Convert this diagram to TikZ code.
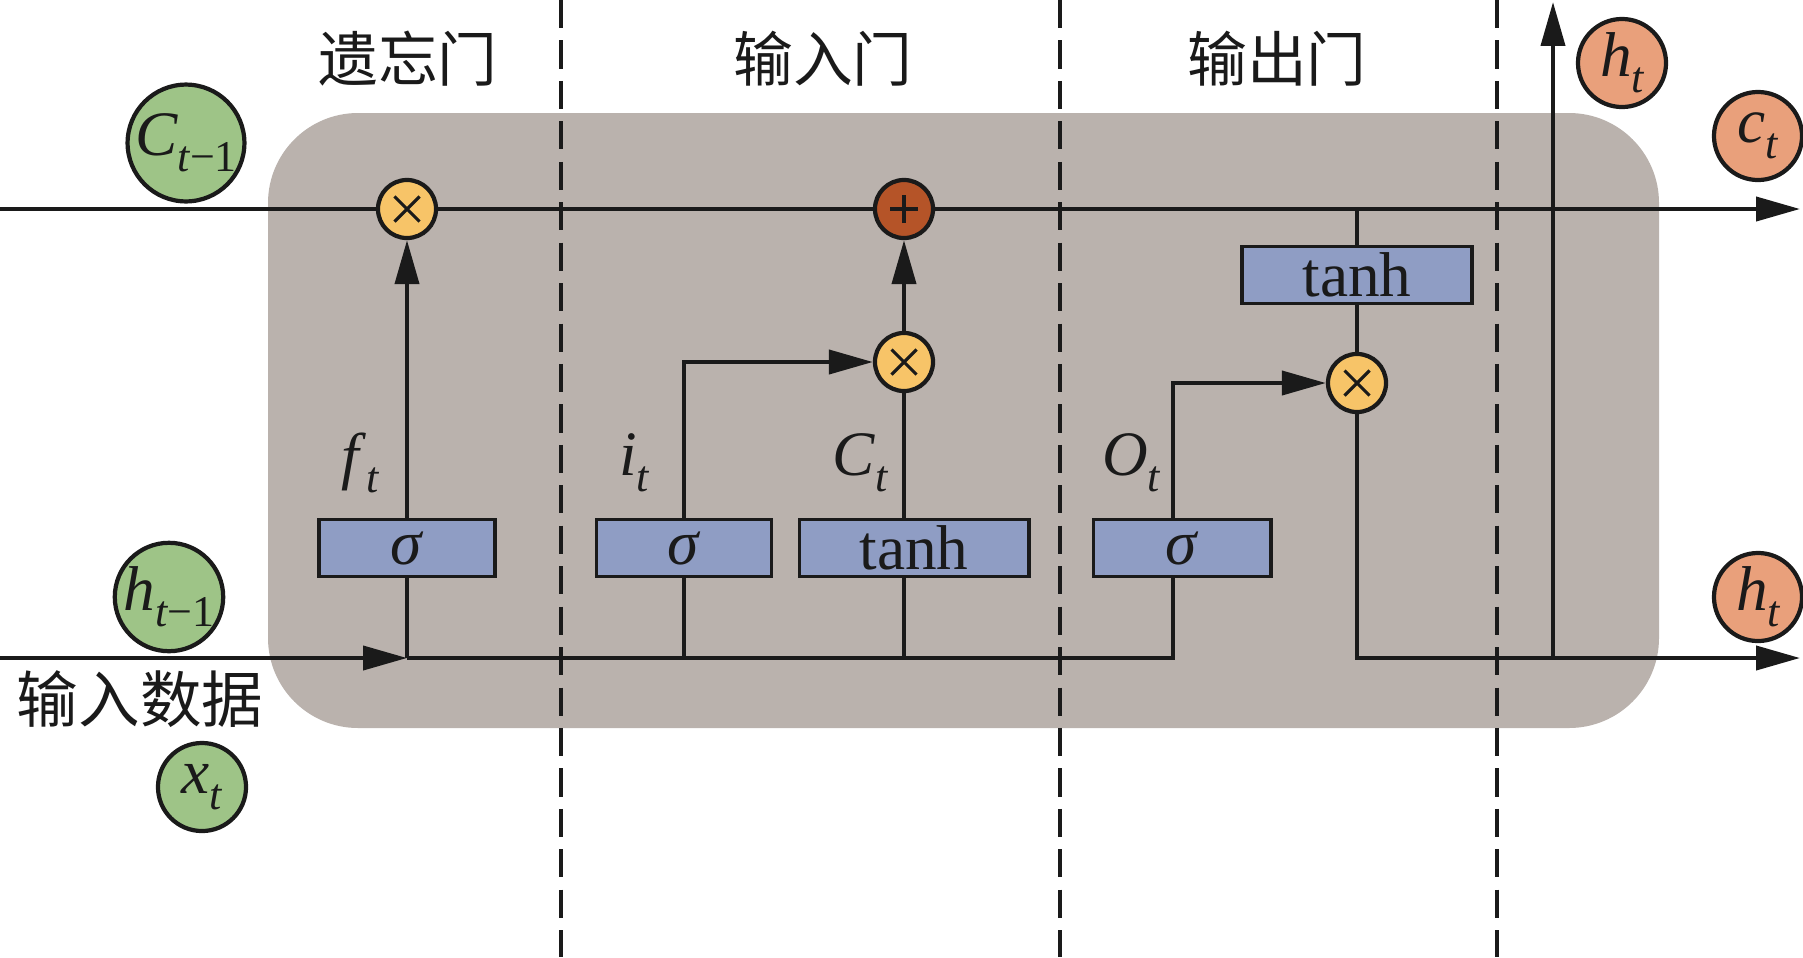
\documentclass[tikz,border=0pt]{standalone}
\usepackage{fontspec}
\setmainfont{Liberation Serif}
\newfontfamily\cjk{Noto Sans CJK SC}
\usetikzlibrary{arrows.meta}
\definecolor{cellgray}{HTML}{BAB2AD}
\definecolor{ingreen}{HTML}{9EC487}
\definecolor{outorange}{HTML}{E9A07B}
\definecolor{opyellow}{HTML}{F7C468}
\definecolor{opbrown}{HTML}{B55428}
\definecolor{boxblue}{HTML}{8F9DC4}
\definecolor{ink}{HTML}{1A1A1A}
\newcommand{\vsub}[2]{\textit{#1}\raisebox{-0.25em}{\fontsize{12.5}{13}\selectfont\itshape #2}}
\begin{document}
\begin{tikzpicture}[x=0.01cm,y=-0.01cm,
  every node/.style={font=\fontsize{18}{20}\selectfont, text=ink},
  wire/.style={draw=ink,line width=1.2pt},
  arr/.style={wire,-{Triangle[length=12.5pt,width=6.8pt]}},
  fnbox/.style={draw=ink,line width=1.1pt,fill=boxblue,minimum height=0.57cm,inner sep=0pt},
  op/.style={circle,draw=ink,line width=1.2pt,minimum size=0.58cm,inner sep=0pt},
  mulop/.style={op,fill=opyellow,path picture={
      \draw[ink,line width=0.9pt]
        ([shift={(-0.125cm,0.125cm)}]path picture bounding box.center) -- ([shift={(0.125cm,-0.125cm)}]path picture bounding box.center)
        ([shift={(-0.125cm,-0.125cm)}]path picture bounding box.center) -- ([shift={(0.125cm,0.125cm)}]path picture bounding box.center);}},
  addop/.style={op,fill=opbrown,path picture={
      \draw[ink,line width=0.9pt]
        ([shift={(-0.14cm,0cm)}]path picture bounding box.center) -- ([shift={(0.14cm,0cm)}]path picture bounding box.center)
        ([shift={(0cm,-0.14cm)}]path picture bounding box.center) -- ([shift={(0cm,0.14cm)}]path picture bounding box.center);}},
  incirc/.style={circle,draw=ink,line width=1.2pt,fill=ingreen,inner sep=0pt},
  outcirc/.style={circle,draw=ink,line width=1.2pt,fill=outorange,inner sep=0pt,minimum size=0.88cm},
  gatelabel/.style={font=\cjk\fontsize{17}{20}\selectfont},
  divider/.style={draw=ink,line width=1pt,dash pattern=on 8pt off 3.5pt},
]
\useasboundingbox (0,0) rectangle (1803,957);
% cell body
\fill[cellgray,rounded corners=0.9cm] (268,113) rectangle (1659,728);
% dividers
\draw[divider] (561,0) -- (561,957);
\draw[divider] (1060,0) -- (1060,957);
\draw[divider] (1497,0) -- (1497,957);
% gate titles
\node[gatelabel] (g1) at (408,59) {遗忘门};
\node[gatelabel] (g2) at (823,59) {输入门};
\node[gatelabel] (g3) at (1277,59) {输出门};
% function boxes
\node[fnbox,minimum width=1.76cm] (s1) at (407,548) {\textit{σ}};
\node[fnbox,minimum width=1.75cm] (s2) at (684,548) {\textit{σ}};
\node[fnbox,minimum width=2.29cm] (t1) at (914,548) {tanh};
\node[fnbox,minimum width=1.77cm] (s3) at (1182,548) {\textit{σ}};
\node[fnbox,minimum width=2.30cm] (t2) at (1357,275) {tanh};
% pointwise ops
\node[mulop] (f1) at (407,209) {};
\node[addop] (p1) at (904,209) {};
\node[mulop] (m2) at (904,362) {};
\node[mulop] (m3) at (1357,383) {};
% coordinates
\coordinate (cin) at (0,209);
\coordinate (cout) at (1800,209);
\coordinate (hin) at (0,658);
\coordinate (j1) at (407,658);
\coordinate (hout) at (1800,658);
\coordinate (hup) at (1553,2);
\coordinate (o3) at (1173,658);
% cell state rail
\draw[wire] (cin) -- (f1.west);
\draw[wire] (f1.east) -- (p1.west);
\draw[arr] (p1.east) -- (cout);
% forget gate
\draw[wire] (s1.south) -- (j1);
\draw[arr] (s1.north) -- (f1.south);
% input gate
\draw[wire] (s2.south) -- (s2.south |- hin);
\draw[arr] (s2.north) |- (m2.west);
\draw[wire] (m2 |- t1.south) -- (m2 |- hin);
\draw[wire] (m2 |- t1.north) -- (m2.south);
\draw[arr] (m2.north) -- (p1.south);
% input rail
\draw[arr] (hin) -- (j1);
\draw[wire] (j1) -- (o3) -- (o3 |- s3.south);
% output gate
\draw[arr] (o3 |- s3.north) |- (m3.west);
\draw[wire] (t2.north) -- (t2.north |- cin);
\draw[wire] (t2.south) -- (m3.north);
\draw[arr] (m3.south) |- (hout);
\draw[arr] (hup |- hin) -- (hup);
% labels
\node (lf) at (360,463) {\vsub{f}{t}};
\node (li) at (634,463) {\vsub{i}{t}};
\node (lc) at (860,463) {\vsub{C}{t}};
\node (lo) at (1131,463) {\vsub{O}{t}};
% inputs
\node[incirc,minimum size=1.03cm] (cprev) at (186,143) {\vsub{C}{t\upshape −1}};
\node[incirc,minimum size=1.04cm] (hprev) at (169,597) {\vsub{h}{t\upshape −1}};
\node[incirc,minimum size=0.88cm] (xt) at (202,787) {\vsub{x}{t}};
\node[font=\cjk\fontsize{17.5}{20}\selectfont] (indata) at (140,699) {输入数据};
% outputs
\node[outcirc] (hto) at (1622,63) {\vsub{h}{t}};
\node[outcirc] (cto) at (1758,136) {\vsub{c}{t}};
\node[outcirc] (htr) at (1758,597) {\vsub{h}{t}};
\end{tikzpicture}
\end{document}
